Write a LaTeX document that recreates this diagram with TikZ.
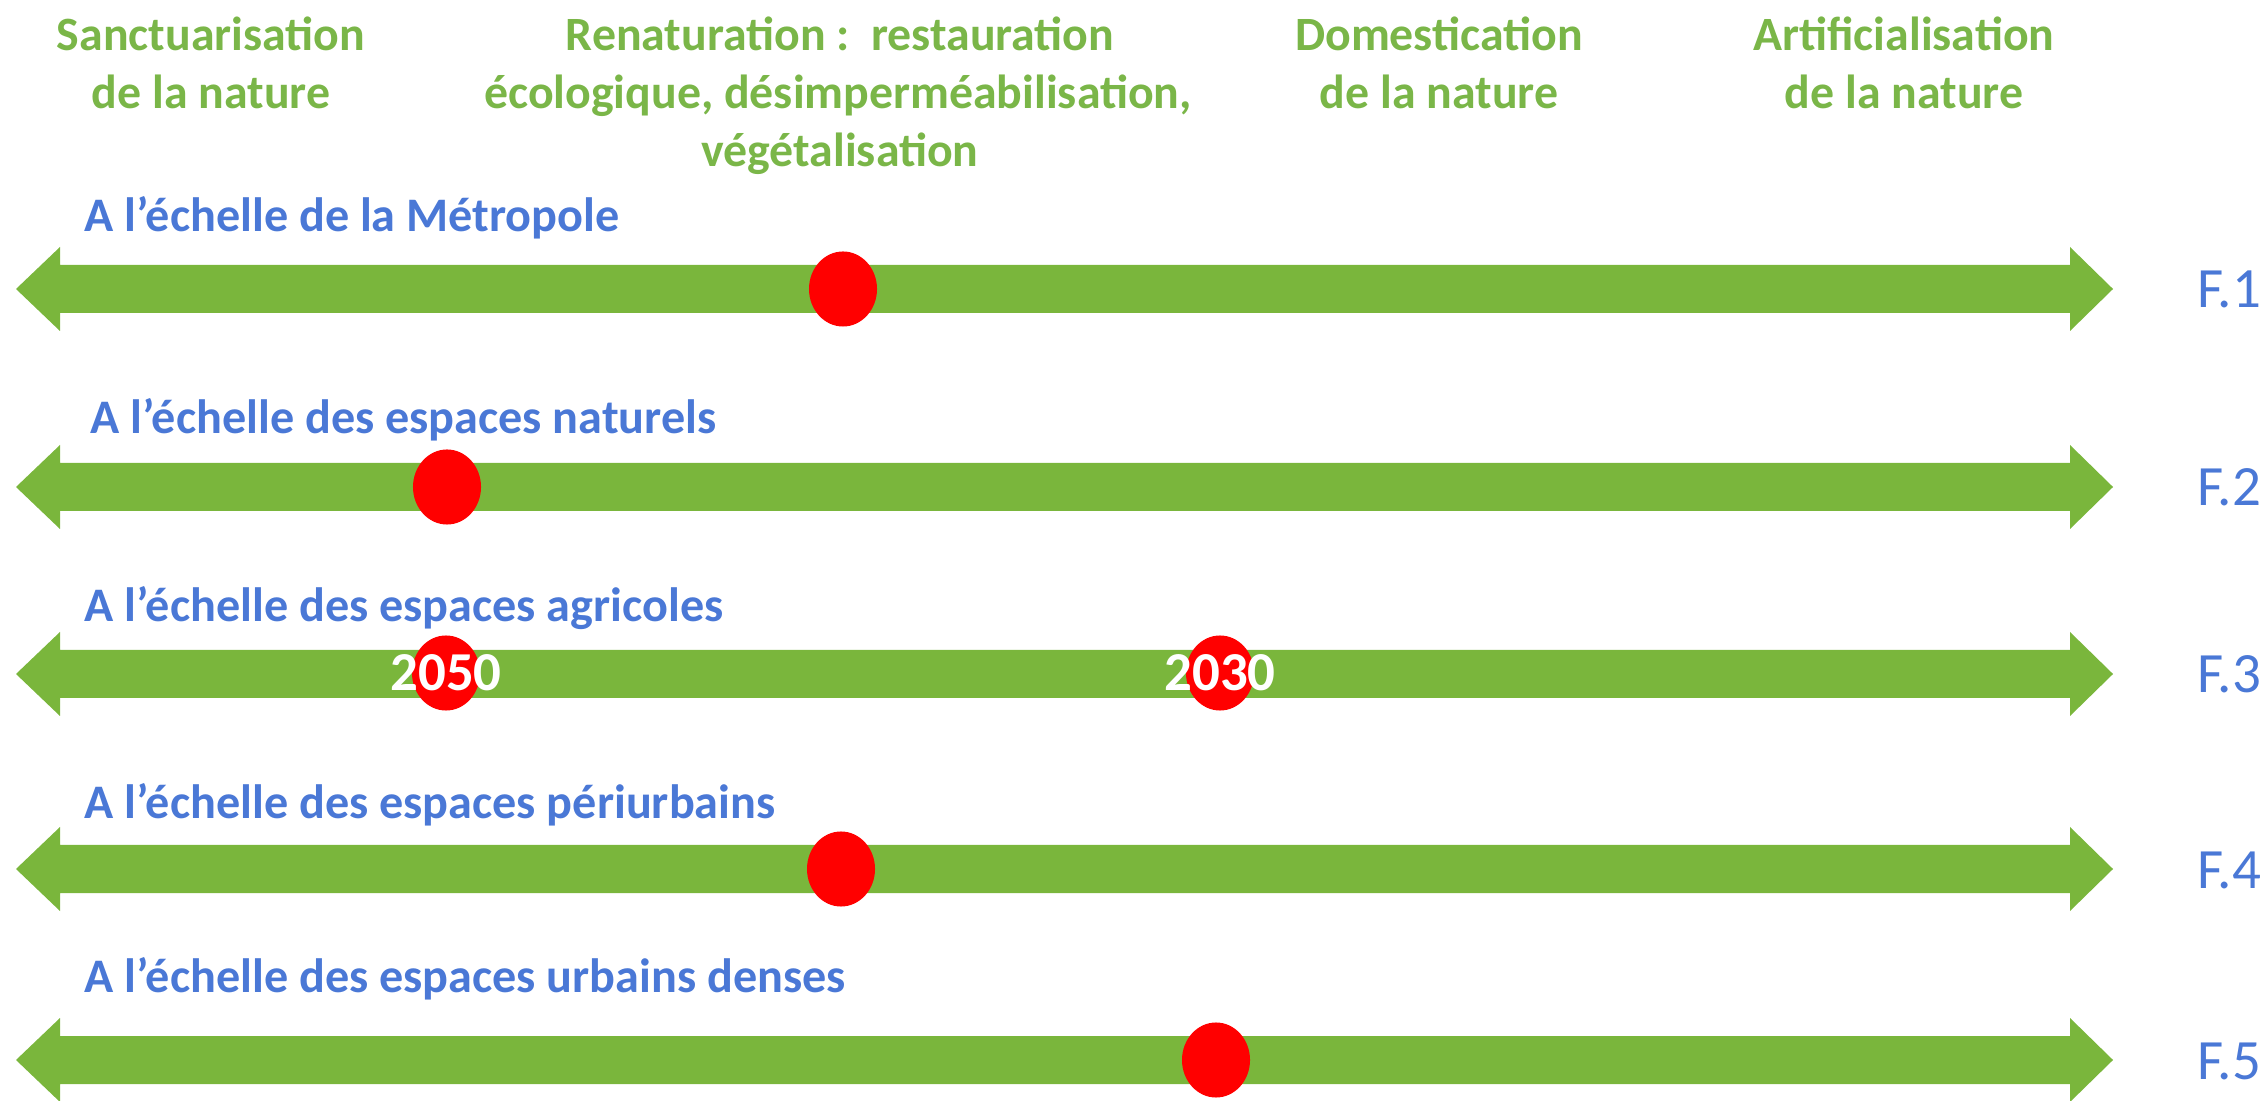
\documentclass[tikz,border=0pt]{standalone}
\usepackage{fontspec}
\setmainfont{Carlito}
\usetikzlibrary{shapes.geometric}
\definecolor{grn}{HTML}{7AB63C}
\definecolor{txtgrn}{HTML}{7AB648}
\definecolor{blu}{HTML}{4A78D6}
\begin{document}
\begin{tikzpicture}[x=0.01cm,y=-0.01cm,
  head/.style={text=txtgrn,font=\fontsize{13.6}{16.5}\selectfont\bfseries,anchor=base,inner sep=0},
  lvl/.style={text=blu,font=\fontsize{13.7}{16}\selectfont\bfseries,anchor=base west,inner sep=0},
  flab/.style={text=blu,font=\fontsize{16.2}{18}\selectfont,anchor=base,inner sep=0},
  reddot/.style={ellipse,fill=red,minimum width=0.68cm,minimum height=0.75cm,inner sep=0},
  yr/.style={text=white,font=\fontsize{15.6}{18}\selectfont\bfseries,inner sep=0},
  bar/.style={fill=grn}]
\useasboundingbox (0,0) rectangle (2267,1101);
% headers
\node[head] (h1a) at (211,51) {Sanctuarisation};
\node[head] (h1b) at (211,109) {de la nature};
\node[head] (h2a) at (840,51) {Renaturation :\ \ restauration};
\node[head] (h2b) at (838,109) {écologique, désimperméabilisation,};
\node[head] (h2c) at (840,167) {végétalisation};
\node[head] (h3a) at (1439,51) {Domestication};
\node[head] (h3b) at (1439,109) {de la nature};
\node[head] (h4a) at (1904,51) {Artificialisation};
\node[head] (h4b) at (1904,109) {de la nature};
% arrows
\foreach \yy/\i in {289/1,487/2,674/3,869/4,1060/5}{
  \fill[bar] (16,\yy) -- (60,\yy-42) -- (60,\yy-24) -- (2070,\yy-24) -- (2070,\yy-42)
    -- (2113,\yy) -- (2070,\yy+42) -- (2070,\yy+24) -- (60,\yy+24) -- (60,\yy+42) -- cycle;
  \node[flab] (f\i) at (2229,\yy+19) {F.\i};
}
% row labels
\node[lvl] (l1) at (84,232) {A l’échelle de la Métropole};
\node[lvl] (l2) at (90,434) {A l’échelle des espaces naturels};
\node[lvl] (l3) at (84,622) {A l’échelle des espaces agricoles};
\node[lvl] (l4) at (84,819) {A l’échelle des espaces périurbains};
\node[lvl] (l5) at (84,992) {A l’échelle des espaces urbains denses};
% dots
\node[reddot] (d1) at (843,289) {};
\node[reddot] (d2) at (447,487) {};
\node[reddot] (d3a) at (446,673) {};
\node[reddot] (d3b) at (1220,673) {};
\node[reddot] (d4) at (841,869) {};
\node[reddot] (d5) at (1216,1060) {};
\node[yr] (y1) at (d3a) {2050};
\node[yr] (y2) at (d3b) {2030};
\end{tikzpicture}
\end{document}
